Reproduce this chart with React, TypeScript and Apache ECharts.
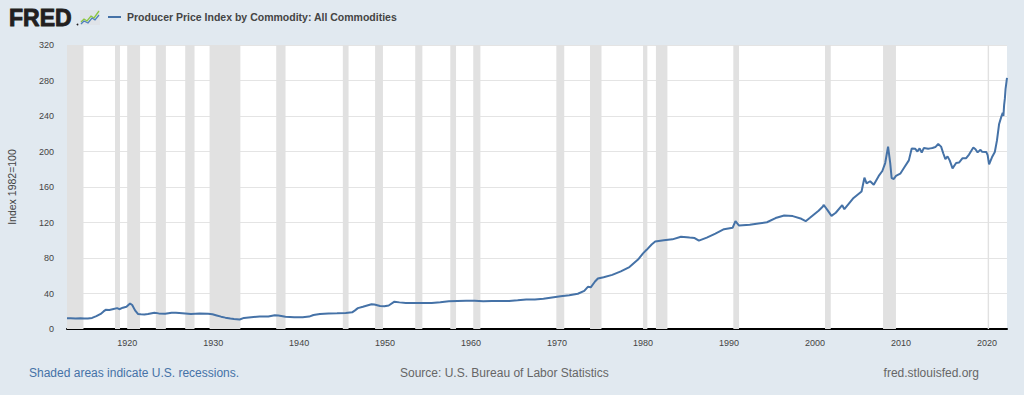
import React, { useEffect, useRef } from "react";
import * as echarts from "echarts";

const dates: string[] = [
  "1913-01","1913-06","1914-01","1914-08","1915-01","1915-06","1915-12","1916-06","1916-12","1917-04",
  "1917-07","1917-12","1918-06","1918-11","1919-02","1919-07","1919-12","1920-05","1920-08","1920-12",
  "1921-04","1921-08","1922-01","1922-06","1923-03","1923-09","1924-06","1925-03","1925-09","1926-06",
  "1927-06","1928-06","1929-06","1929-12","1930-06","1930-12","1931-06","1932-01","1932-06","1933-02",
  "1933-08","1934-06","1935-06","1936-06","1937-03","1937-08","1938-06","1939-06","1940-06","1941-03",
  "1941-09","1942-06","1943-06","1944-06","1945-06","1946-03","1946-07","1946-11","1947-06","1948-06",
  "1948-10","1949-06","1949-12","1950-06","1951-02","1951-09","1952-06","1953-06","1954-06","1955-06",
  "1956-06","1957-06","1958-06","1959-06","1960-06","1961-06","1962-06","1963-06","1964-06","1965-06",
  "1966-06","1967-06","1968-06","1969-06","1970-06","1971-06","1972-06","1973-03","1973-08","1973-12",
  "1974-06","1974-10","1975-06","1976-06","1977-06","1978-06","1979-06","1980-01","1980-06","1981-01",
  "1981-06","1982-06","1983-06","1984-06","1985-06","1986-01","1986-07","1987-06","1988-06","1989-06",
  "1990-06","1990-10","1991-03","1992-06","1993-06","1994-06","1995-06","1996-06","1997-06","1998-06",
  "1998-12","1999-06","2000-06","2000-12","2001-01","2001-06","2001-12","2002-06","2003-03","2003-06",
  "2004-06","2005-06","2005-10","2006-01","2006-06","2006-11","2007-06","2007-11","2008-03","2008-07",
  "2008-10","2008-12","2009-03","2009-06","2009-12","2010-06","2010-12","2011-04","2011-09","2011-12",
  "2012-03","2012-06","2012-09","2013-03","2013-06","2013-09","2014-01","2014-05","2014-09","2014-12",
  "2015-03","2015-06","2015-09","2016-01","2016-06","2016-10","2017-03","2017-08","2017-12","2018-06",
  "2018-09","2018-12","2019-04","2019-06","2019-12","2020-02","2020-04","2020-08","2020-12","2021-03",
  "2021-06","2021-09","2021-11","2021-12","2022-01","2022-02","2022-03","2022-05"
];

const ppi: number[] = [
  12.1,12.0,11.8,12.0,11.8,11.9,12.5,14.5,17.0,19.8,
  21.6,21.5,22.6,23.5,22.3,24.0,25.0,28.8,27.0,21.0,
  17.0,16.6,16.3,16.9,18.2,17.6,17.1,18.2,18.3,17.8,
  17.0,17.4,17.2,16.6,15.3,13.9,12.8,11.9,11.3,10.7,
  12.5,13.3,14.1,14.0,15.4,15.2,13.8,13.2,13.3,14.0,
  15.8,17.0,17.6,17.8,18.1,18.8,21.0,23.5,25.0,27.9,
  27.5,25.9,25.6,26.5,30.8,30.0,29.4,29.2,29.2,29.3,
  30.2,31.2,31.6,31.7,31.7,31.4,31.6,31.5,31.6,32.3,
  33.3,33.3,34.2,35.6,36.9,38.0,39.7,43.0,47.5,47.0,
  53.5,56.9,58.4,61.0,65.0,69.8,78.2,85.2,89.2,95.2,
  98.5,99.9,101.0,104.0,103.0,102.5,99.5,103.0,107.5,112.5,
  114.0,121.5,116.5,117.5,119.0,120.3,125.0,127.9,127.2,124.2,
  121.5,125.3,133.3,138.0,140.0,134.5,127.5,131.0,139.5,135.0,
  147.0,155.0,170.5,164.0,166.5,162.5,172.5,178.0,187.0,205.5,
  187.0,170.0,169.0,172.5,175.0,182.5,190.0,203.5,203.0,200.0,
  203.5,198.8,204.0,203.0,203.5,204.0,205.0,208.5,205.5,198.0,
  191.5,194.5,190.0,181.0,187.0,187.5,192.5,192.5,196.5,204.5,
  202.5,199.0,202.0,199.8,199.5,196.0,185.5,193.5,199.5,212.5,
  231.0,239.0,243.5,240.0,252.5,259.5,270.5,283.0
];

const recessionStarts: string[] = [
  "1913-01","1918-08","1920-01","1923-05","1926-10","1929-08","1937-05","1945-02","1948-11","1953-07",
  "1957-08","1960-04","1969-12","1973-11","1980-01","1981-07","1990-07","2001-03","2007-12","2020-02"
];
const recessionEnds: string[] = [
  "1914-12","1919-03","1921-07","1924-07","1927-11","1933-03","1938-06","1945-10","1949-10","1954-05",
  "1958-04","1961-02","1970-11","1975-03","1980-07","1982-11","1991-03","2001-11","2009-06","2020-04"
];

const xTickYears: number[] = [1920, 1930, 1940, 1950, 1960, 1970, 1980, 1990, 2000, 2010, 2020];
const yMin = 0;
const yMax = 320;
const yStep = 40;

const FONT = "'Liberation Sans', Arial, Helvetica, sans-serif";

function toYear(s: string): number {
  const [y, m] = s.split("-").map(Number);
  return y + (m - 1) / 12;
}

export default function App() {
  const ref = useRef<HTMLDivElement>(null);

  useEffect(() => {
    document.body.style.margin = "0";
    if (!ref.current) return;
    const chart = echarts.init(ref.current, undefined, { renderer: "svg" });

    const lineData = dates.map((d, i) => [toYear(d), ppi[i]]);
    const areas = recessionStarts.map((s, i) => [
      { xAxis: toYear(s) },
      { xAxis: toYear(recessionEnds[i]) },
    ]);

    chart.setOption({
      animation: false,
      backgroundColor: "#e1e9f0",
      grid: {
        left: 67,
        right: 17,
        top: 45,
        bottom: 66,
        show: true,
        backgroundColor: "#ffffff",
        borderWidth: 0,
        outerBoundsMode: "none",
      },
      xAxis: {
        type: "value",
        min: toYear(dates[0]),
        max: toYear(dates[dates.length - 1]),
        axisLine: { show: true, lineStyle: { color: "#000000", width: 2 } },
        axisTick: { show: false },
        splitLine: { show: false },
        axisLabel: {
          customValues: xTickYears,
          formatter: (v: number) => String(Math.round(v)),
          color: "#444444",
          fontSize: 9,
          fontFamily: FONT,
          margin: 9,
        },
      },
      yAxis: {
        type: "value",
        min: yMin,
        max: yMax,
        interval: yStep,
        name: "Index 1982=100",
        nameLocation: "middle",
        nameRotate: 90,
        nameGap: 50,
        nameTextStyle: { color: "#444444", fontSize: 10.5, fontFamily: FONT },
        axisLine: { show: false },
        axisTick: { show: false },
        axisLabel: { color: "#444444", fontSize: 9, fontFamily: FONT, margin: 13 },
        splitLine: { show: true, lineStyle: { color: "#e4e4e4", width: 1 } },
      },
      series: [
        {
          type: "line",
          data: lineData,
          showSymbol: false,
          symbol: "none",
          lineStyle: { color: "#4572a7", width: 2 },
          markArea: {
            silent: true,
            itemStyle: { color: "#e1e1e1" },
            data: areas,
          },
        },
      ],
      graphic: [
        {
          type: "text",
          x: 9,
          y: 18,
          style: {
            text: "FRED",
            fontFamily: FONT,
            fontWeight: "bold",
            fontSize: 23,
            fill: "#231f20",
            stroke: "#231f20",
            lineWidth: 0.9,
            textVerticalAlign: "middle",
          },
        },
        {
          type: "circle",
          shape: { cx: 77.5, cy: 24.5, r: 0.9 },
          style: { fill: "#231f20" },
        },
        {
          type: "rect",
          shape: { x: 80, y: 10, width: 20, height: 15 },
          style: { fill: "#dfe3e8" },
        },
        {
          type: "polyline",
          shape: { points: [[81, 22], [84, 19], [87, 21], [91, 16], [94, 18], [99, 11]] },
          style: { stroke: "#8cc63f", lineWidth: 1.3, fill: "none" },
        },
        {
          type: "polyline",
          shape: { points: [[81, 24], [84, 21], [88, 23], [92, 18], [95, 20], [99, 15]] },
          style: { stroke: "#4f81bd", lineWidth: 1.3, fill: "none" },
        },
        {
          type: "line",
          shape: { x1: 108, y1: 17, x2: 121, y2: 17 },
          style: { stroke: "#4572a7", lineWidth: 2 },
        },
        {
          type: "text",
          x: 127,
          y: 17,
          style: {
            text: "Producer Price Index by Commodity: All Commodities",
            fontFamily: FONT,
            fontWeight: "bold",
            fontSize: 10.5,
            fill: "#444444",
            textVerticalAlign: "middle",
          },
        },
        {
          type: "text",
          x: 29,
          y: 373,
          style: {
            text: "Shaded areas indicate U.S. recessions.",
            fontFamily: FONT,
            fontSize: 12,
            fill: "#4572a7",
            textVerticalAlign: "middle",
          },
        },
        {
          type: "text",
          x: 400,
          y: 373,
          style: {
            text: "Source: U.S. Bureau of Labor Statistics",
            fontFamily: FONT,
            fontSize: 12,
            fill: "#666666",
            textVerticalAlign: "middle",
          },
        },
        {
          type: "text",
          x: 979,
          y: 373,
          style: {
            text: "fred.stlouisfed.org",
            fontFamily: FONT,
            fontSize: 12,
            fill: "#666666",
            textAlign: "right",
            textVerticalAlign: "middle",
          },
        },
      ],
    });

    return () => {
      chart.dispose();
    };
  }, []);

  return (
    <div
      ref={ref}
      style={{ width: 1024, height: 395, position: "absolute", left: 0, top: 0 }}
    />
  );
}
